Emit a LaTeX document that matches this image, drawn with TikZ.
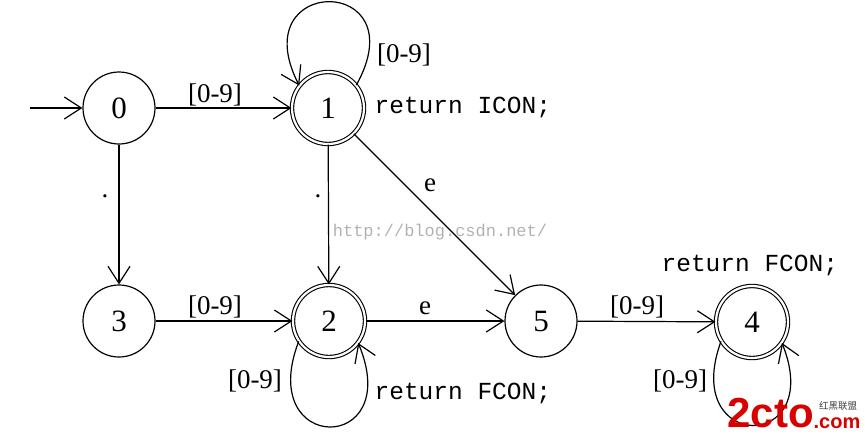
\documentclass[tikz,border=0pt]{standalone}
\usepackage{fontspec}
\setmainfont{Liberation Serif}
\setmonofont{Liberation Mono}
\setsansfont{Liberation Sans}
\newfontfamily\cjkfont{Noto Sans CJK SC}
\usetikzlibrary{arrows.meta}
\begin{document}
\begin{tikzpicture}[x=1pt,y=-1pt,
  line width=1.2pt,
  >={Straight Barb[length=17pt,width=22pt,line width=1.2pt]},
  state/.style={circle,draw,minimum size=72pt,inner sep=0pt,font=\fontsize{31}{31}\selectfont},
  accept/.style={state,double,double distance=2.2pt,line width=1.1pt},
  lbl/.style={font=\fontsize{27}{27}\selectfont,inner sep=0pt},
  code/.style={font=\ttfamily\fontsize{24.5}{24.5}\selectfont,inner sep=0pt,anchor=west},
  edge/.style={->}]
\useasboundingbox (0,0) rectangle (865,440);
\node[state]  (n0) at (119,108) {0};
\node[accept] (n1) at (328,108) {1};
\node[state]  (n3) at (119,321) {3};
\node[accept] (n2) at (329,321) {2};
\node[state]  (n5) at (541,321) {5};
\node[accept] (n4) at (752,322) {4};
\coordinate (start) at (30,108);
% edges
\draw[edge] (start) -- (n0);
\draw[edge] (n0) -- (n1);
\draw[edge] (n0) -- (n3);
\draw[edge] (n1) -- (n2);
\draw[edge] (n1) -- (n5);
\draw[edge] (n3) -- (n2);
\draw[edge] (n2) -- (n5);
\draw[edge] (n5) -- (n4);
% loops
\draw[edge] (n1.39) .. controls (418,-26) and (242,-26) .. (n1.142);
\draw[edge] (n2.214) .. controls (255,455) and (405,455) .. (n2.-37);
\draw[edge] (n4.212) .. controls (680,453) and (826,453) .. (n4.-35);
% labels
\node[lbl] (l01) at (215,95) {[0-9]};
\node[lbl] (l03) at (105,196) {.};
\node[lbl] (l12) at (318,196) {.};
\node[lbl] (l15) at (430,185) {e};
\node[lbl] (l32) at (215,307) {[0-9]};
\node[lbl] (l25) at (425,308) {e};
\node[lbl] (l54) at (637,307) {[0-9]};
\node[lbl] (l11) at (404,55) {[0-9]};
\node[lbl] (l22) at (255,381) {[0-9]};
\node[lbl] (l44) at (680,381) {[0-9]};
\node[code] (r1) at (374,107) {return ICON;};
\node[code] (r2) at (374,393) {return FCON;};
\node[code] (r4) at (661,265) {return FCON;};
% watermarks
\node[font=\ttfamily\fontsize{17}{17}\selectfont,text=black!30,inner sep=0pt] (wm) at (440,232) {http://blog.csdn.net/};
\node[font=\sffamily\bfseries\fontsize{42}{42}\selectfont,text=red!85!black,inner sep=0pt,anchor=base west] (logo) at (727,427) {2cto};
\node[font=\sffamily\bfseries\fontsize{20}{20}\selectfont,text=red!85!black,inner sep=0pt,anchor=base west] (logocom) at (813,428) {.com};
\node[font=\cjkfont\fontsize{9.5}{9.5}\selectfont,text=black!75,inner sep=0pt] (logocn) at (838,406) {红黑联盟};
\end{tikzpicture}
\end{document}
